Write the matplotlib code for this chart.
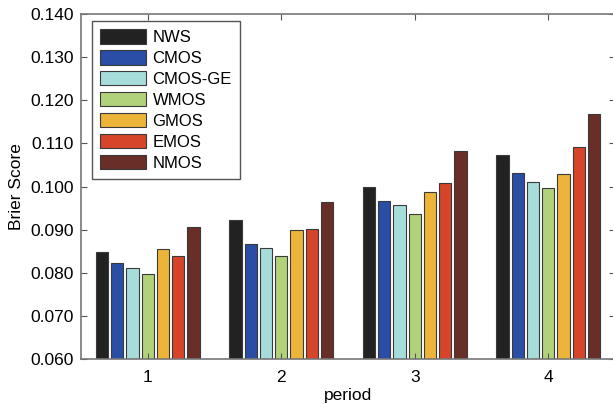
import numpy as np
import matplotlib.pyplot as plt

plt.rcParams["font.family"] = ["Liberation Sans", "DejaVu Sans"]
plt.rcParams["font.size"] = 12

periods = [1, 2, 3, 4]
methods = ["NWS", "CMOS", "CMOS-GE", "WMOS", "GMOS", "EMOS", "NMOS"]
colors = ["#222222", "#2a4ea6", "#a6dcda", "#b1d27a", "#ecb53a", "#d6442a", "#6a2e29"]

# Brier score per method, one value per period
nws = [0.0848, 0.0923, 0.0998, 0.1072]
cmos = [0.0822, 0.0867, 0.0966, 0.1031]
cmos_ge = [0.0811, 0.0858, 0.0956, 0.1011]
wmos = [0.0796, 0.0839, 0.0936, 0.0997]
gmos = [0.0855, 0.0899, 0.0987, 0.1030]
emos = [0.0839, 0.0901, 0.1008, 0.1091]
nmos = [0.0907, 0.0963, 0.1083, 0.1169]
scores = [nws, cmos, cmos_ge, wmos, gmos, emos, nmos]

fig = plt.figure(figsize=(6.13, 4.04), dpi=100)
W, H = 613, 404
ax = fig.add_axes([81 / W, 1 - 359 / H, 534 / W, 345 / H])

n = len(methods)
group_width = 0.8
pitch = group_width / n
x = np.array(periods, dtype=float)
for i, (name, vals) in enumerate(zip(methods, scores)):
    offset = -group_width / 2 + pitch * (i + 0.5)
    ax.bar(x + offset, vals, width=pitch * 0.8, bottom=0,
           color=colors[i], edgecolor="#3a3a3a", linewidth=0.8, label=name)

ax.set_xlim(0.5, 4.5)
ax.set_ylim(0.060, 0.140)
ax.set_xticks(periods)
ax.set_yticks(np.arange(0.060, 0.1401, 0.010))
ax.set_yticklabels([f"{v:.3f}" for v in np.arange(0.060, 0.1401, 0.010)])
ax.tick_params(direction="in", length=4, width=0.8, color="#555555",
               top=True, right=True, labelsize=12.5)
ax.tick_params(axis="x", pad=8)
ax.tick_params(axis="y", pad=5)
for s in ax.spines.values():
    s.set_color("#777777")
    s.set_linewidth(1.2)

ax.set_xlabel("period", fontsize=12.5, labelpad=2)
ax.set_ylabel("Brier Score", fontsize=12.5, labelpad=5)

leg = ax.legend(loc="upper left", bbox_to_anchor=(0.02, 0.98), borderaxespad=0,
                fancybox=False, framealpha=1, edgecolor="#555555",
                handlelength=2.75, handleheight=0.95, handletextpad=0.4,
                labelspacing=0.3, borderpad=0.5, fontsize=12)
leg.get_frame().set_linewidth(1.0)

fig.savefig("out.png", dpi=100)
